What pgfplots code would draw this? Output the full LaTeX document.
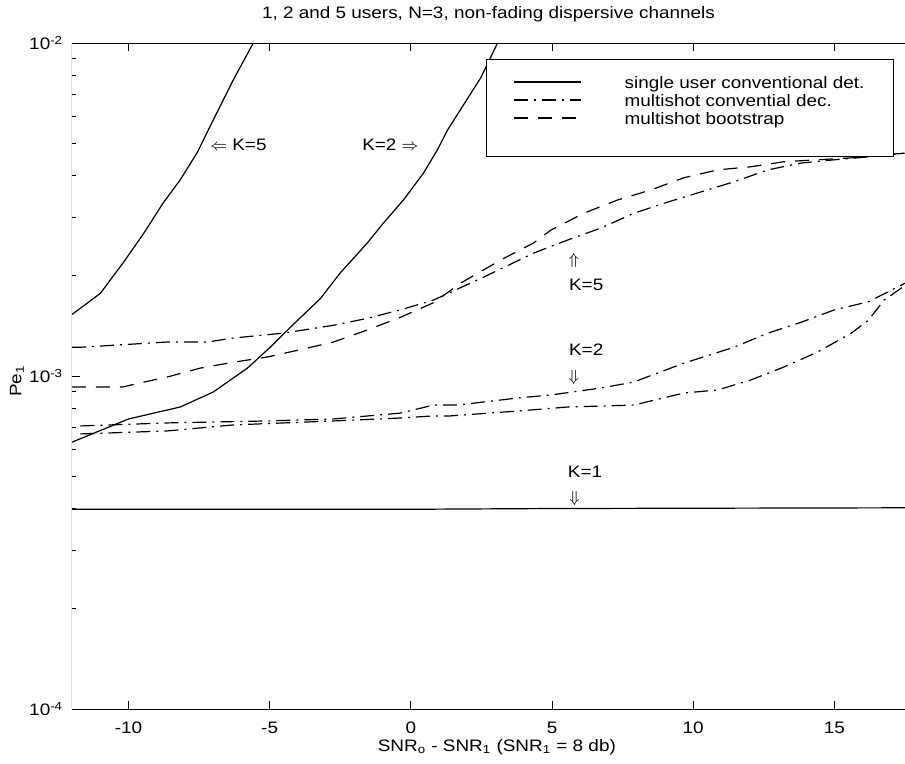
\documentclass[border=0pt]{standalone}
\usepackage{fontspec}
\setmainfont{Liberation Sans}[FakeStretch=1.14]
\usepackage{pgfplots}
\pgfplotsset{compat=1.18}

\tikzset{
  dashd/.style={dash pattern=on 7pt off 5pt},
  dashdt/.style={dash pattern=on 7pt off 3pt on 1pt off 3pt},
}
\newcommand{\fsz}{\fontsize{8.3}{10}\selectfont}

\begin{document}
\fsz
\begin{tikzpicture}
\begin{axis}[
    scale only axis,
    width=416.5pt, height=333pt,
    ymode=log,
    xmin=-12, xmax=17.5,
    ymin=1e-4, ymax=1e-2,
    xtick={-10,-5,0,5,10,15},
    ytick={1e-4,1e-3,1e-2},
    yticklabels={10\textsuperscript{-4},10\textsuperscript{-3},10\textsuperscript{-2}},
    minor ytick={2e-4,3e-4,4e-4,5e-4,6e-4,7e-4,8e-4,9e-4,2e-3,3e-3,4e-3,5e-3,6e-3,7e-3,8e-3,9e-3},
    ytick pos=left,
    separate axis lines,
    y axis line style={draw=none},
    axis line style={line width=0.5pt},
    tick align=inside,
    major tick length=4pt, minor tick length=2pt,
    every tick/.style={black, line width=0.4pt},
    tick label style={font=\fsz},
    /pgf/number format/assume math mode=true,
    xticklabel style={yshift=-3.5pt},
    yticklabel style={xshift=-1.5pt},
    title={1, 2 and 5 users, N=3, non-fading dispersive channels},
    title style={at={(0.5,1)}, anchor=base, yshift=6.5pt, font=\fsz},
    xlabel={SNR\textsubscript{o} - SNR\textsubscript{1} (SNR\textsubscript{1} = 8 db)},
    xlabel style={at={(rel axis cs:0.51,0)}, anchor=center, yshift=-19pt, font=\fsz},
    ylabel={Pe\textsubscript{1}},
    ylabel style={at={(rel axis cs:0,0.4925)}, anchor=center, yshift=27.5pt, font=\fsz},
    legend cell align=left,
    legend style={at={(0.5294,0.952)}, anchor=north west, draw=none, fill=none,
        inner sep=0pt, row sep=0pt, font=\fsz,
        nodes={inner sep=0pt, text height=6.8pt, text depth=2.2pt},
        /tikz/every odd column/.append style={column sep=21.5pt}},
    legend image code/.code={\draw[#1] (0pt,1.2pt) -- (33.5pt,1.2pt);},
    every axis plot/.append style={black, line width=0.6pt},
]

% K=1 single user (solid)
\addplot[solid] coordinates {(-12,3.98e-4) (0,3.98e-4) (5,4.0e-4) (17.5,4.02e-4)};
\addlegendentry{single user conventional det.}

% K=5 multishot conventional (dash-dot)
\addplot[dashdt] coordinates {
  (-12,1.22e-3) (-11.7,1.22e-3) (-8.63,1.265e-3) (-7.21,1.265e-3) (-6.29,1.30e-3)
  (-4.52,1.345e-3) (-2.74,1.42e-3) (-1.54,1.49e-3) (-0.37,1.58e-3) (0.80,1.69e-3)
  (2.57,1.98e-3) (4.35,2.34e-3) (5.55,2.56e-3) (6.72,2.78e-3) (7.89,3.08e-3)
  (9.10,3.33e-3) (10.27,3.57e-3) (11.44,3.83e-3) (12.65,4.16e-3) (13.82,4.36e-3)
  (15.0,4.46e-3) (16.2,4.55e-3) (17.5,4.67e-3)};
\addlegendentry{multishot convential dec.}

% K=5 multishot bootstrap (dashed)
\addplot[dashd] coordinates {
  (-12,9.27e-4) (-10.2,9.27e-4) (-9.6,9.53e-4) (-8.63,9.93e-4) (-7.46,1.056e-3)
  (-6.29,1.10e-3) (-5.09,1.14e-3) (-3.91,1.20e-3) (-2.74,1.265e-3) (-1.54,1.375e-3)
  (-0.37,1.50e-3) (0.80,1.66e-3) (1.76,1.90e-3) (3.18,2.23e-3) (4.35,2.51e-3)
  (4.95,2.74e-3) (6.12,3.08e-3) (7.33,3.38e-3) (8.50,3.62e-3) (9.67,3.94e-3)
  (10.87,4.16e-3) (12.04,4.25e-3) (13.21,4.40e-3) (14.4,4.46e-3) (15.6,4.52e-3)
  (17.5,4.67e-3)};
\addlegendentry{multishot bootstrap}

% K=5 single user (solid)
\addplot[solid, forget plot] coordinates {
  (-12,1.53e-3) (-11,1.77e-3) (-10.2,2.18e-3) (-9.45,2.69e-3) (-8.77,3.31e-3)
  (-8.17,3.88e-3) (-7.57,4.68e-3) (-7.0,5.87e-3) (-6.29,7.74e-3) (-5.58,1.0e-2)
  (-5.3,1.1e-2)};

% K=2 single user (solid)
\addplot[solid, forget plot] coordinates {
  (-12,6.33e-4) (-10,7.43e-4) (-8.17,8.07e-4) (-7,8.95e-4) (-5.79,1.056e-3)
  (-4.98,1.22e-3) (-4.27,1.40e-3) (-3.2,1.71e-3) (-2.5,2.04e-3) (-1.54,2.51e-3)
  (-0.97,2.88e-3) (-0.26,3.38e-3) (0.45,4.07e-3) (0.94,4.78e-3) (1.3,5.48e-3)
  (2.47,7.85e-3) (3.07,1.0e-2) (3.3,1.1e-2)};

% K=2 multishot, upper
\addplot[dashdt, forget plot] coordinates {
  (-11.7,7.08e-4) (-8.63,7.23e-4) (-5.09,7.33e-4) (-2.74,7.43e-4) (-0.37,7.74e-4)
  (0.80,8.18e-4) (1.65,8.18e-4) (3.78,8.59e-4) (4.95,8.77e-4) (6.72,9.20e-4)
  (7.89,9.59e-4) (9.67,1.093e-3) (11.44,1.22e-3) (12.65,1.345e-3) (13.82,1.45e-3)
  (15.0,1.58e-3) (16.2,1.67e-3) (17.5,1.90e-3)};

% K=2 multishot, lower
\addplot[dashdt, forget plot] coordinates {
  (-11.7,6.70e-4) (-8.63,6.84e-4) (-6.29,7.13e-4) (-2.74,7.33e-4) (-0.37,7.48e-4)
  (0.80,7.59e-4) (1.4,7.59e-4) (3.78,7.85e-4) (5.55,8.07e-4) (7.89,8.18e-4)
  (9.67,8.89e-4) (10.87,9.08e-4) (12.04,9.73e-4) (13.21,1.064e-3) (14.4,1.18e-3)
  (15.6,1.345e-3) (16.2,1.47e-3) (16.76,1.69e-3) (17.5,1.87e-3)};

% legend frame
\draw[fill=white, line width=0.5pt] (rel axis cs:0.498,0.829) rectangle (rel axis cs:0.9856,0.9745);
% left spine
\draw[line width=0.5pt] (rel axis cs:0,0) -- (rel axis cs:0,1);

% annotations
\node[font=\fsz] at (axis cs:-6.11,4.94e-3) {$\Leftarrow$ K=5};
\node[font=\fsz] at (axis cs:-0.72,4.94e-3) {K=2 $\Rightarrow$};
\node at (axis cs:5.77,2.23e-3) {$\Uparrow$};
\node[anchor=west, inner sep=0pt, font=\fsz] at (axis cs:5.59,1.875e-3) {K=5};
\node[anchor=west, inner sep=0pt, font=\fsz] at (axis cs:5.59,1.197e-3) {K=2};
\node at (axis cs:5.77,9.93e-4) {$\Downarrow$};
\node[anchor=west, inner sep=0pt, font=\fsz] at (axis cs:5.55,5.15e-4) {K=1};
\node at (axis cs:5.8,4.28e-4) {$\Downarrow$};
\end{axis}
\pgfresetboundingbox
\path[use as bounding box] (current axis.south west) ++(-36pt,-27.5pt) rectangle ([yshift=21.5pt]current axis.north east);
\end{tikzpicture}
\end{document}
